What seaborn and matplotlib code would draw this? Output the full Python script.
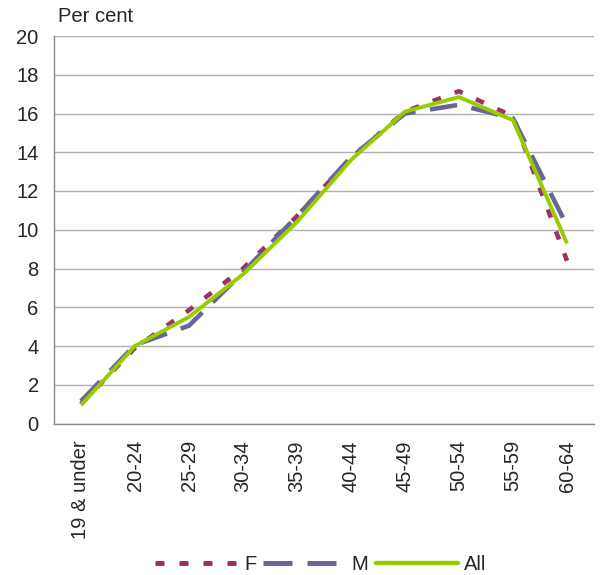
import matplotlib
matplotlib.use("Agg")
import matplotlib.pyplot as plt
import seaborn as sns
import pandas as pd
from matplotlib.lines import Line2D

categories = ["19 & under", "20-24", "25-29", "30-34", "35-39", "40-44",
              "45-49", "50-54", "55-59", "60-64"]
female = [1.0, 3.9, 5.85, 8.0, 10.7, 13.7, 16.1, 17.15, 15.85, 8.4]
male = [1.15, 4.05, 5.05, 7.8, 10.7, 13.75, 16.0, 16.45, 15.75, 10.2]
all_ = [0.95, 4.0, 5.5, 7.7, 10.4, 13.6, 16.1, 16.85, 15.65, 9.3]
y_ticks = [0, 2, 4, 6, 8, 10, 12, 14, 16, 18, 20]

sns.set_style("white")
plt.rcParams["font.family"] = ["Liberation Sans", "DejaVu Sans"]
FS = 14.5

df = pd.DataFrame({"cat": categories * 3,
                   "val": female + male + all_,
                   "series": ["F"] * 10 + ["M"] * 10 + ["All"] * 10})
df["x"] = list(range(10)) * 3

fig = plt.figure(figsize=(6.01, 5.75), dpi=100)
ax = fig.add_axes([54 / 601, 1 - 423.5 / 575, 540 / 601, (423.5 - 36) / 575])

palette = {"F": "#993366", "M": "#666699", "All": "#99CC00"}
dashes = {"F": (1.9, 3.2), "M": (6.0, 3.2), "All": ""}
sns.lineplot(data=df, x="x", y="val", hue="series", style="series",
             palette=palette, dashes=dashes, ax=ax, legend=False,
             hue_order=["F", "M", "All"], style_order=["F", "M", "All"])
widths = {"F": 3.3, "M": 3.3, "All": 2.8}
for line, name in zip(ax.get_lines(), ["F", "M", "All"]):
    line.set_linewidth(widths[name])
    line.set_solid_capstyle("butt")
    line.set_dash_capstyle("butt")

ax.set_xlim(-0.5, 9.5)
ax.set_ylim(0, 20)
ax.set_yticks(y_ticks)
ax.set_yticklabels([str(t) for t in y_ticks], fontsize=FS)
ax.set_xticks(range(10))
ax.set_xticklabels(categories, rotation=90, fontsize=FS, va="top")
ax.set_xticks([i - 0.5 for i in range(11)], minor=True)
ax.tick_params(axis="x", which="major", length=0, pad=12)
ax.tick_params(axis="x", which="minor", length=5, color="#888888", width=1)
ax.tick_params(axis="y", length=0, pad=11)
ax.yaxis.grid(True, color="#b0b0b0", linewidth=1)
ax.set_axisbelow(True)
for s in ["top", "right"]:
    ax.spines[s].set_visible(False)
for s in ["left", "bottom"]:
    ax.spines[s].set_color("#888888")
    ax.spines[s].set_linewidth(1)
ax.set_xlabel("")
ax.set_ylabel("")
fig.text(58 / 601, 1 - 17 / 575, "Per cent", fontsize=FS, va="center", ha="left")

handles = [
    Line2D([], [], color=palette["F"], linewidth=3.6, dashes=(1.8, 3.0), dash_capstyle="butt"),
    Line2D([], [], color=palette["M"], linewidth=3.6, dashes=(5.8, 3.0), dash_capstyle="butt"),
    Line2D([], [], color=palette["All"], linewidth=3.2),
]
fig.legend(handles, ["F", "M", "All"], loc="lower center",
           bbox_to_anchor=(321 / 601, -0.03), ncol=3, frameon=False,
           fontsize=FS, handlelength=4.1, handletextpad=0.3, columnspacing=0.35)

fig.savefig("out.png", dpi=100)
